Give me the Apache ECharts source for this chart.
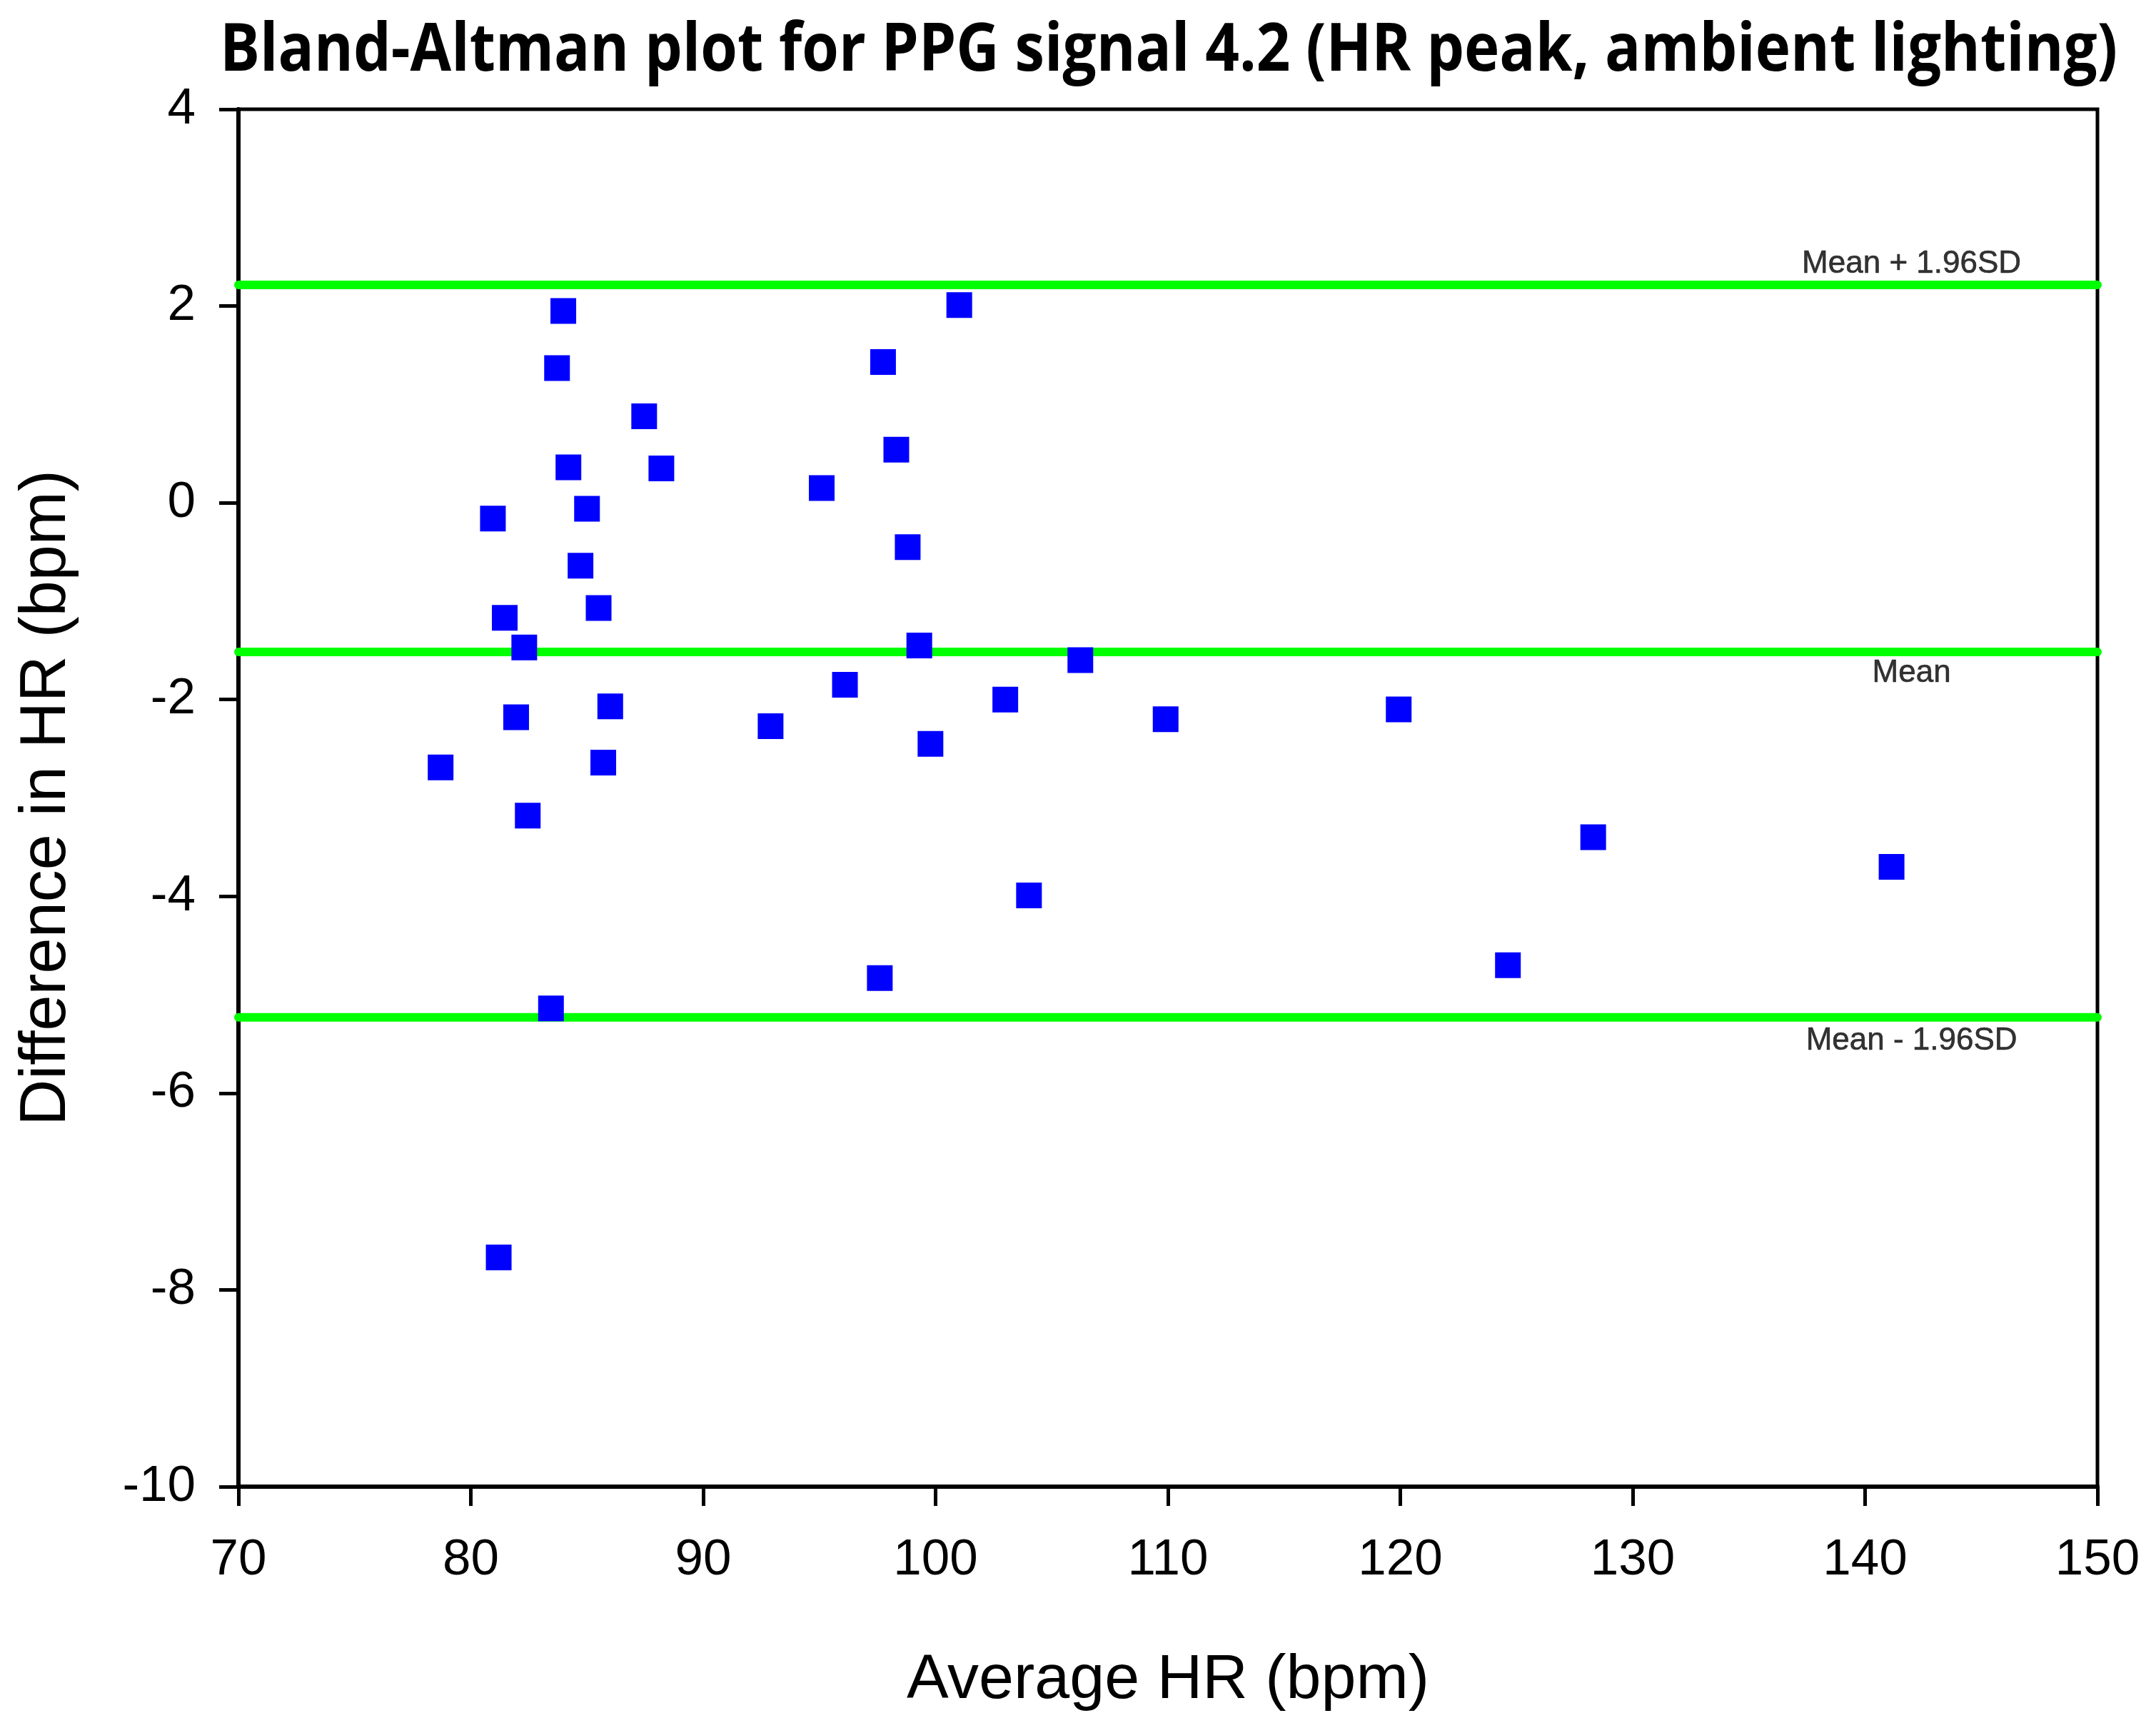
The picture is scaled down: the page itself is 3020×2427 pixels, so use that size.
<!DOCTYPE html>
<html>
<head>
<meta charset="utf-8">
<script src="https://cdn.jsdelivr.net/npm/echarts@6/dist/echarts.min.js"></script>
<style>
html,body{margin:0;padding:0;background:#fff;}
#chart{width:3020px;height:2427px;}
</style>
</head>
<body>
<div id="chart"></div>
<script>
// ---- data ----
const avgHR = [78.7, 80.95, 81.46, 81.95, 82.3, 82.45, 81.2, 83.45, 83.71, 83.98, 84.2, 84.72, 85.0, 85.5, 85.7, 86.0, 87.46, 88.2, 92.9, 95.1, 96.1, 97.6, 97.74, 98.31, 98.8, 99.3, 99.78, 101.02, 103.0, 104.02, 106.23, 109.9, 119.93, 124.63, 128.3, 141.14];
const diffHR = [-2.69, -0.16, -1.17, -2.18, -1.47, -3.18, -7.67, -5.14, 1.37, 1.95, 0.36, -0.64, -0.06, -1.07, -2.64, -2.07, 0.88, 0.35, -2.27, 0.15, -1.85, -4.83, 1.43, 0.54, -0.45, -1.45, -2.45, 2.01, -2.00, -3.99, -1.60, -2.20, -2.10, -4.70, -3.40, -3.70];
const limitValues = [2.215, -1.515, -5.23];
const limitLabels = ['Mean + 1.96SD', 'Mean', 'Mean - 1.96SD'];
const limitLabelPos = ['top', 'bottom', 'bottom'];
const limitLabelDist = [7, 8, 11];
const labelX = 142;
const xRange = [70, 150];
const yRange = [-10, 4];
const titleText = 'Bland-Altman plot for PPG signal 4.2 (HR peak, ambient lighting)';

const chart = echarts.init(document.getElementById('chart'));

const points = avgHR.map((x, i) => [x, diffHR[i]]);

// condensed bold title: measure natural width, then squeeze horizontally to target width
const titleFont = 'bold 93px "Open Sans", "Noto Sans", sans-serif';
const mctx = document.createElement('canvas').getContext('2d');
mctx.font = titleFont;
const titleW = mctx.measureText(titleText).width;
const titleTargetW = 2658;
const titleScaleX = titleTargetW / titleW;

const lineSeries = limitValues.map((v) => ({
  type: 'line',
  data: [[xRange[0], v], [xRange[1], v]],
  showSymbol: false,
  symbol: 'none',
  silent: true,
  z: 2,
  lineStyle: { color: '#00ff00', width: 12, cap: 'round' },
  animation: false
}));

const labelSeries = {
  type: 'scatter',
  symbolSize: 0,
  silent: true,
  z: 3,
  data: limitValues.map((v, i) => ({
    value: [labelX, v],
    label: {
      show: true,
      position: limitLabelPos[i],
      distance: limitLabelDist[i],
      formatter: limitLabels[i],
      fontFamily: 'Liberation Sans, Arial, sans-serif',
      fontSize: 44,
      color: '#000000',
      textBorderWidth: 0.6,
      textBorderColor: '#000000'
    }
  })),
  animation: false
};

const option = {
  backgroundColor: '#ffffff',
  animation: false,
  graphic: [{
    type: 'text',
    x: 1637,
    y: 26,
    scaleX: titleScaleX,
    scaleY: 1,
    style: {
      text: titleText,
      font: titleFont,
      fill: '#000',
      align: 'center',
      verticalAlign: 'top'
    }
  }],
  grid: {
    left: 334, right: 82, top: 153, bottom: 345,
    show: true, borderColor: '#000', borderWidth: 5, backgroundColor: 'transparent'
  },
  xAxis: {
    type: 'value',
    min: xRange[0], max: xRange[1], interval: 10,
    name: 'Average HR (bpm)',
    nameLocation: 'middle',
    nameGap: 228,
    nameTextStyle: { fontFamily: 'Liberation Sans, Arial, sans-serif', fontSize: 88, color: '#000' },
    axisLine: { show: true, onZero: false, lineStyle: { color: '#000', width: 6 } },
    axisTick: { show: true, inside: false, length: 27, lineStyle: { color: '#000', width: 5 } },
    axisLabel: { margin: 68, fontFamily: 'Liberation Sans, Arial, sans-serif', fontSize: 71, color: '#000' },
    splitLine: { show: false }
  },
  yAxis: {
    type: 'value',
    min: yRange[0], max: yRange[1], interval: 2,
    name: 'Difference in HR (bpm)',
    nameLocation: 'middle',
    nameGap: 223,
    nameRotate: 90,
    nameTextStyle: { fontFamily: 'Liberation Sans, Arial, sans-serif', fontSize: 90, color: '#000' },
    axisLine: { show: true, onZero: false, lineStyle: { color: '#000', width: 6 } },
    axisTick: { show: true, inside: false, length: 27, lineStyle: { color: '#000', width: 5 } },
    axisLabel: { margin: 60, fontFamily: 'Liberation Sans, Arial, sans-serif', fontSize: 71, color: '#000' },
    splitLine: { show: false }
  },
  series: [
    ...lineSeries,
    labelSeries,
    {
      type: 'scatter',
      data: points,
      symbol: 'rect',
      symbolSize: 36,
      z: 5,
      itemStyle: { color: '#0000ff', opacity: 1 },
      animation: false
    }
  ]
};

chart.setOption(option);
</script>
</body>
</html>
